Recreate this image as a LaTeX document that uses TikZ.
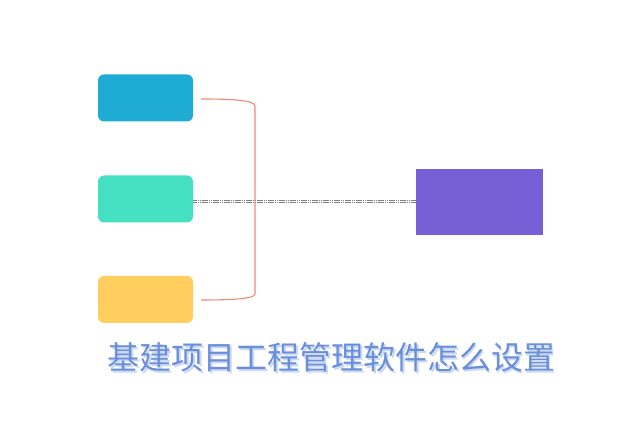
\documentclass[tikz,border=0pt]{standalone}
\usepackage{fontspec}
\newfontfamily\cjk{Noto Sans CJK SC}
\begin{document}
\begin{tikzpicture}[x=1pt,y=-1pt,
  card/.style={draw=none,rounded corners=6pt,minimum width=95pt,minimum height=47pt,inner sep=0pt}]
\useasboundingbox (0,0) rectangle (640,427);
\definecolor{cblue}{HTML}{1EACD4}
\definecolor{cgreen}{HTML}{45E0C2}
\definecolor{cyellow}{HTML}{FFCE5E}
\definecolor{cpurple}{HTML}{775FD6}
\definecolor{corange}{HTML}{EE8A72}
\definecolor{ctitle}{HTML}{6A8FDA}
\node[card,fill=cblue] (a) at (145.5,98) {};
\node[card,fill=cgreen] (b) at (145.5,199) {};
\node[card,fill=cyellow] (c) at (145.5,299.5) {};
\node[fill=cpurple,minimum width=127pt,minimum height=66pt,inner sep=0pt] (p) at (479.5,202) {};
\coordinate (t1) at (201,99);
\coordinate (t2) at (201,300);
\draw[corange,line width=1.1pt] (t1) .. controls (230,99) and (255,100) .. (255,106) -- (255,294) .. controls (255,299) and (230,300) .. (t2);
\draw[gray,line width=0.6pt,double distance=1.2pt,dash pattern=on 1.5pt off 0.7pt] (b.east |- 0,201.5) -- (p.west |- 0,201.5);
\node[text=ctitle!35,font=\cjk\fontsize{32}{35}\selectfont] at (333,359) {基建项目工程管理软件怎么设置};
\node[text=ctitle,font=\cjk\fontsize{32}{35}\selectfont] (title) at (331,357) {基建项目工程管理软件怎么设置};
\end{tikzpicture}
\end{document}
